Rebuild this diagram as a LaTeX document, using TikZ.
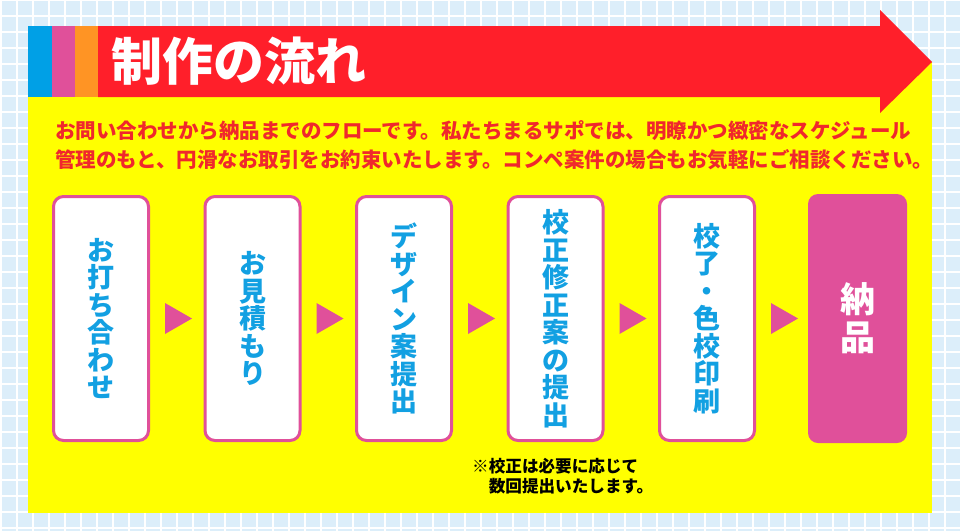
\documentclass[tikz,border=0pt]{standalone}
\usepackage{fontspec}
\newfontfamily\jp{Noto Sans CJK JP}
\usetikzlibrary{positioning, calc}
\definecolor{gridblue}{HTML}{DCEEFA}
\definecolor{barred}{HTML}{FF1F2A}
\definecolor{stripeblue}{HTML}{00A0E6}
\definecolor{stripepink}{HTML}{E0509A}
\definecolor{stripeorange}{HTML}{FF9424}
\definecolor{panelyellow}{HTML}{FFFF00}
\definecolor{textred}{HTML}{F0282C}
\definecolor{stepblue}{HTML}{12A0E2}

\begin{document}
\begin{tikzpicture}[
    x=1pt, y=-1pt,
    stepbox/.style={draw=stripepink, line width=3pt, fill=white, rounded corners=10pt, minimum width=95pt, minimum height=244pt, inner sep=0pt, align=center, text=stepblue, font=\jp\bfseries\fontsize{27}{27.5}\selectfont},
    lastbox/.style={fill=stripepink, rounded corners=10pt, minimum width=99pt, minimum height=249pt, inner sep=0pt, outer sep=0pt, align=center, text=white, font=\jp\bfseries\fontsize{35}{38}\selectfont},
    arr/.style={fill=stripepink},
]
\useasboundingbox (0,0) rectangle (960,531);

% Grid background
\fill[gridblue] (0,0) rectangle (960,531);
\foreach \i in {1,17,...,961} {
    \draw[white, line width=2pt] (\i,0) -- (\i,531);
}
\foreach \j in {0,16,...,528} {
    \draw[white, line width=2pt] (0,\j) -- (960,\j);
}

% Panel and title bar
\fill[panelyellow] (28,62) rectangle (932,513);
\fill[barred] (98,26) -- (880,26) -- (880,10) -- (932,62) -- (880,113) -- (880,97) -- (98,97) -- cycle;
\fill[stripeblue] (28,26) rectangle (52,97);
\fill[stripepink] (52,26) rectangle (75,97);
\fill[stripeorange] (75,26) rectangle (98,97);

\node[anchor=west, inner sep=0pt, text=white, font=\jp\bfseries\fontsize{51}{51}\selectfont] (title) at (111,61) {制作の流れ};

\node[anchor=west, inner sep=0pt, align=left, text=textred, font=\jp\bfseries\fontsize{20.5}{29.5}\selectfont] (intro) at (55,145) {お問い合わせから納品までのフローです。私たちまるサポでは、明瞭かつ緻密なスケジュール\\管理のもと、円滑なお取引をお約束いたします。コンペ案件の場合もお気軽にご相談ください。};

% Steps
\node[stepbox] (b1) at (101,318.5) {お\\打\\ち\\合\\わ\\せ};
\node[stepbox, right=53.5pt of b1] (b2) {お\\見\\積\\も\\り};
\node[stepbox, right=53.5pt of b2] (b3) {デ\\ザ\\イ\\ン\\案\\提\\出};
\node[stepbox, right=53.5pt of b3] (b4) {校\\正\\修\\正\\案\\の\\提\\出};
\node[stepbox, right=53.5pt of b4] (b5) {校\\了\\・\\色\\校\\印\\刷};
\node[lastbox, right=52pt of b5] (b6) {納\\品};

\foreach \a/\b in {b1/b2, b2/b3, b3/b4, b4/b5, b5/b6} {
    \fill[arr] ($(\a.east)+(15,-15.5)$) -- ($(\a.east)+(42,0)$) -- ($(\a.east)+(15,15.5)$) -- cycle;
}

\node[anchor=west, inner sep=0pt, align=left, font=\jp\bfseries\fontsize{16.6}{19.5}\selectfont] (note) at (472,476) {※校正は必要に応じて\\　数回提出いたします。};

\end{tikzpicture}
\end{document}
